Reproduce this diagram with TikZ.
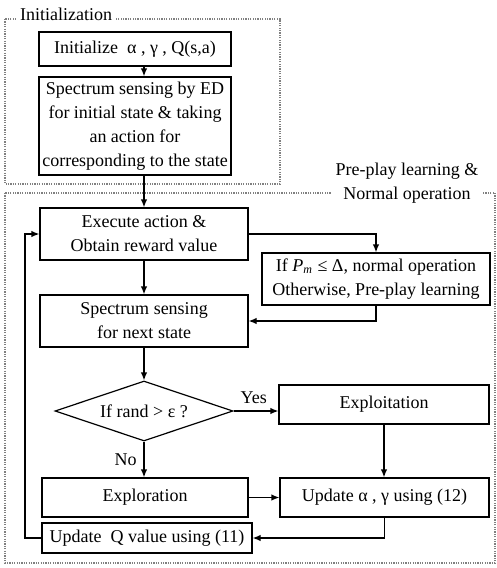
\documentclass[tikz,border=0pt]{standalone}
\usepackage{fontspec}
\setmainfont{Liberation Serif}
\usetikzlibrary{shapes.geometric, arrows.meta}
\tikzset{>={Latex[length=4pt,width=3.2pt]}}
\tikzset{
  blk/.style={draw, line width=0.6pt, align=center, inner sep=1pt},
  arr/.style={->, line width=0.6pt},
  zone/.style={draw=gray, line width=0.6pt, dash pattern=on 0.6pt off 0.6pt},
}
\begin{document}
\begin{tikzpicture}[x=0.5pt, y=-0.5pt, font=\fontsize{9}{12}\selectfont]
\useasboundingbox (0,0) rectangle (497,568);
% dotted zones
\draw[zone] (5,19) rectangle (280,184);
\draw[zone] (5,193) rectangle (495,563);
\node[fill=white, inner sep=2pt] (initlbl) at (66,14) {Initialization};
\node[fill=white, align=center, inner sep=2pt] (playlbl) at (407,183) {Pre-play learning \&\\Normal operation};

% blocks
\node[blk, minimum width=96pt, minimum height=17pt] (init) at (135,49) {Initialize\ \ α , γ , Q(s,a)};
\node[blk, minimum width=96pt, minimum height=49pt] (sense0) at (135,126) {Spectrum sensing by ED\\for initial state \& taking\\an action for\\corresponding to the state};
\node[blk, minimum width=104pt, minimum height=26pt] (exec) at (144,234) {Execute action \&\\Obtain reward value};
\node[blk, minimum width=114pt, minimum height=26pt] (check) at (376,279) {If \textit{P\textsubscript{m}} ≤ Δ, normal operation\\Otherwise, Pre-play learning};
\node[blk, minimum width=104pt, minimum height=26pt] (sense1) at (144,321) {Spectrum sensing\\for next state};
\node[blk, diamond, aspect=3, inner sep=0pt, minimum width=89pt, minimum height=30pt] (decide) at (144,411) {If rand > ε ?};
\node[blk, minimum width=105pt, minimum height=19.5pt] (exploit) at (384,404.5) {Exploitation};
\node[blk, minimum width=103pt, minimum height=19.5pt] (explore) at (145,497.5) {Exploration};
\node[blk, minimum width=104.5pt, minimum height=19.5pt] (updag) at (384.5,497.5) {Update α , γ using (12)};
\node[blk, minimum width=105pt, minimum height=15pt] (updq) at (147,538) {Update\ \ Q value using (11)};
\coordinate (back) at (25,538);

% connectors
\draw[arr] (init.south -| exec.north) -- (sense0.north -| exec.north);
\draw[arr] (sense0.south -| exec.north) -- (exec.north);
\draw[arr] (exec) -- (sense1);
\draw[arr] (exec.east) -| (check.north);
\draw[arr] (check.south) |- (sense1.east);
\draw[arr] (sense1) -- (decide);
\draw[arr] (decide.east) -- (decide.east -| exploit.west) node[pos=0.45, above] {Yes};
\draw[arr] (decide.south) -- (decide.south |- explore.north) node[midway, left] {No};
\draw[arr] (exploit.south) -- (exploit.south |- updag.north);
\draw[arr] (explore) -- (updag);
\draw[arr] (updag.south) |- (updq.east);
\draw[arr] (updq.west) -- (back) |- (exec.west);
\end{tikzpicture}
\end{document}
